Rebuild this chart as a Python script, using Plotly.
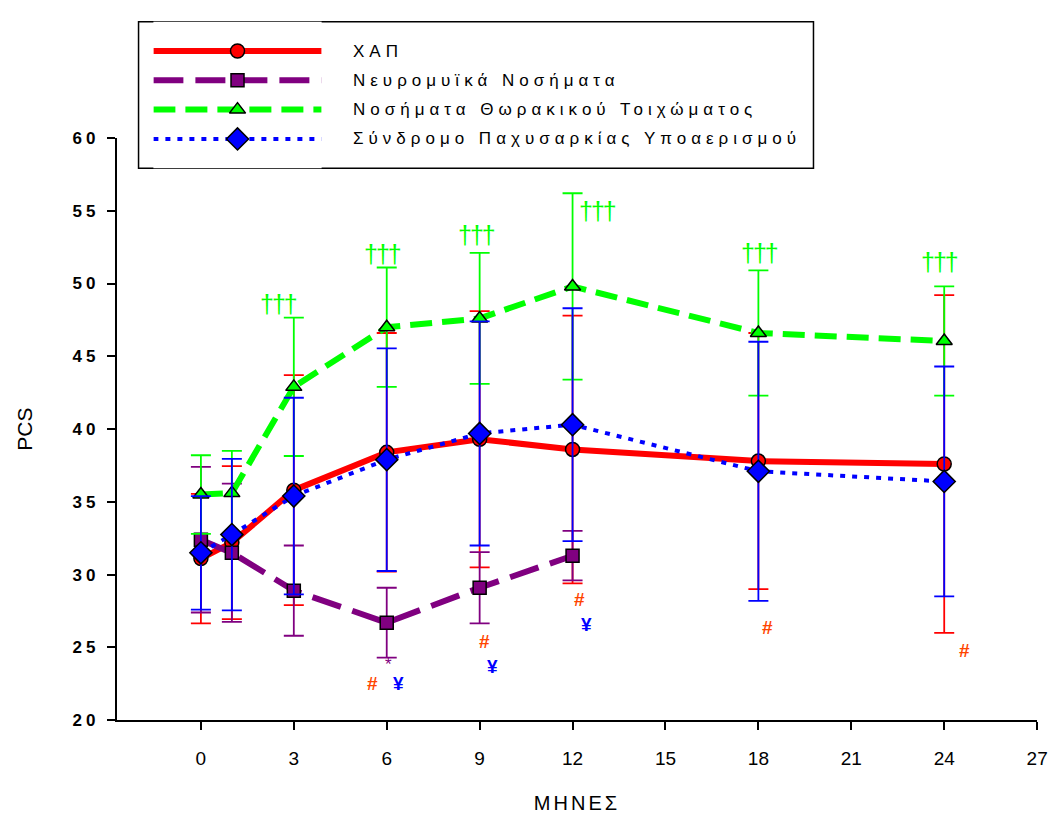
import plotly.graph_objects as go

# ---------------- data ----------------
months = [0, 1, 3, 6, 9, 12, 18, 24]
months_nm = [0, 1, 3, 6, 9, 12]

copd_mean = [31.1, 32.2, 35.8, 38.4, 39.3, 38.6, 37.8, 37.6]
copd_err = [4.45, 5.25, 7.9, 8.2, 8.8, 9.2, 8.8, 11.6]

nm_mean = [32.4, 31.5, 28.9, 26.7, 29.1, 31.3]
nm_err = [5.0, 4.75, 3.1, 2.4, 2.45, 1.7]

cw_mean = [35.5, 35.6, 42.9, 47.0, 47.6, 49.8, 46.6, 46.05]
cw_err = [2.7, 2.9, 4.75, 4.1, 4.5, 6.4, 4.3, 3.75]

ohs_mean = [31.5, 32.75, 35.4, 37.9, 39.7, 40.3, 37.1, 36.4]
ohs_err = [3.9, 5.2, 6.75, 7.65, 7.7, 8.0, 8.9, 7.9]

series_names = ["ΧΑΠ", "Νευρομυϊκά Νοσήματα", "Νοσήματα Θωρακικού Τοιχώματος",
                "Σύνδρομο Παχυσαρκίας Υποαερισμού"]

x_ticks = [0, 3, 6, 9, 12, 15, 18, 21, 24, 27]
y_ticks = [20, 25, 30, 35, 40, 45, 50, 55, 60]

# significance marks: (x, y) text positions
dagger_x = [2.5, 5.85, 8.9, 12.8, 18.03, 23.85]
dagger_y = [48.6, 52.0, 53.3, 55.0, 52.1, 51.5]
hash_x = [5.54, 9.17, 12.23, 18.28, 24.65]
hash_y = [22.5, 25.4, 28.3, 26.4, 24.8]
yen_x = [6.37, 9.4, 12.45]
yen_y = [22.5, 23.7, 26.6]
star_x = [6.05]
star_y = [23.8]

# ---------------- styles ----------------
RED, PURPLE, GREEN, BLUE = "#FF0000", "#800080", "#00FF00", "#0000FF"
W, H = 1061, 823
PL, PR, PT, PB = 118, 1048, 132, 728  # plot area in px
FONT = "Liberation Sans, Arial, sans-serif"


def spaced(txt, px):
    return f'<span style="letter-spacing:{px}px">{txt}</span>'


styles = [
    dict(color=RED, dash="solid", width=6, symbol="circle", size=14),
    dict(color=PURPLE, dash="30px,12px", width=6, symbol="square", size=13),
    dict(color=GREEN, dash="22px,10px", width=6, symbol="triangle-up", size=14),
    dict(color=BLUE, dash="5px,7px", width=4, symbol="diamond", size=17),
]
data = [
    (months, copd_mean, copd_err),
    (months_nm, nm_mean, nm_err),
    (months, cw_mean, cw_err),
    (months, ohs_mean, ohs_err),
]

fig = go.Figure()
for (xs, ys, es), st, name in zip(data, styles, series_names):
    fig.add_trace(go.Scatter(
        x=xs, y=ys, name=name, mode="lines+markers",
        line=dict(color=st["color"], width=st["width"], dash=st["dash"]),
        marker=dict(symbol=st["symbol"], size=st["size"], color=st["color"],
                    line=dict(color="black", width=1.5)),
        error_y=dict(type="data", array=es, visible=True, color=st["color"],
                     thickness=1.8, width=10),
        showlegend=False, cliponaxis=False,
    ))

# ---------------- manual legend (long line samples) ----------------
for i, (st, name) in enumerate(zip(styles, series_names)):
    fig.add_trace(go.Scatter(
        x=[0, 1], y=[i, i], mode="lines", xaxis="x2", yaxis="y2",
        line=dict(color=st["color"], width=st["width"], dash=st["dash"]),
        showlegend=False, hoverinfo="skip"))
    fig.add_trace(go.Scatter(
        x=[0.5], y=[i], mode="markers", xaxis="x2", yaxis="y2",
        marker=dict(symbol=st["symbol"], size=st["size"], color=st["color"],
                    line=dict(color="black", width=1.5)),
        showlegend=False, hoverinfo="skip"))

annotations = []
for i, name in enumerate(series_names):
    annotations.append(dict(
        text=spaced(name, 5), x=355 / W, xref="paper", y=i, yref="y2",
        xanchor="left", yanchor="middle", showarrow=False,
        font=dict(family=FONT, size=17, color="black")))

for x, y in zip(dagger_x, dagger_y):
    annotations.append(dict(text=spaced("†††", -2), x=x, y=y, xref="x", yref="y", showarrow=False,
                            font=dict(family=FONT, size=25, color=GREEN)))
for x, y in zip(hash_x, hash_y):
    annotations.append(dict(text="<b>#</b>", x=x, y=y, xref="x", yref="y", showarrow=False,
                            font=dict(family=FONT, size=19, color="#FF4500")))
for x, y in zip(yen_x, yen_y):
    annotations.append(dict(text="<b>¥</b>", x=x, y=y, xref="x", yref="y", showarrow=False,
                            font=dict(family=FONT, size=19, color=BLUE)))
for x, y in zip(star_x, star_y):
    annotations.append(dict(text="*", x=x, y=y, xref="x", yref="y", showarrow=False,
                            font=dict(family=FONT, size=17, color=PURPLE)))

fig.update_layout(
    width=W, height=H,
    margin=dict(l=0, r=0, t=0, b=0),
    paper_bgcolor="white", plot_bgcolor="white",
    showlegend=False,
    xaxis=dict(
        domain=[PL / W, PR / W], range=[-2.716, 27],
        tickvals=x_ticks, ticktext=[str(v) for v in x_ticks],
        ticks="outside", ticklen=8, tickwidth=1.5, tickcolor="black",
        showline=True, linecolor="black", linewidth=2, showgrid=False, zeroline=False,
        ticklabelstandoff=12,
        tickfont=dict(family=FONT, size=19, color="black"),
        title=dict(text=spaced("ΜΗΝΕΣ", 3), standoff=28,
                   font=dict(family=FONT, size=20, color="black")),
    ),
    yaxis=dict(
        domain=[(H - PB) / H, (H - PT) / H], range=[20, 60],
        tickvals=y_ticks, ticktext=[spaced(v, 4) for v in y_ticks],
        ticks="outside", ticklen=8, tickwidth=1.5, tickcolor="black",
        showline=True, linecolor="black", linewidth=2, showgrid=False, zeroline=False,
        ticklabelstandoff=4,
        tickfont=dict(family=FONT, size=17, color="black", weight="bold"),
        title=dict(text="PCS", standoff=34,
                   font=dict(family=FONT, size=21, color="black")),
    ),
    xaxis2=dict(domain=[155 / W, 325 / W], range=[0, 1], visible=False, anchor="y2"),
    yaxis2=dict(domain=[(H - 163) / H, (H - 13) / H], range=[4, -1], visible=False, anchor="x2"),
    shapes=[
        dict(type="rect", xref="paper", yref="paper",
             x0=140 / W, x1=822 / W, y0=(H - 163) / H, y1=(H - 13) / H,
             line=dict(color="black", width=1.5), fillcolor="white", layer="below"),
    ],
    annotations=annotations,
)

fig.write_html("out.html", config={"displayModeBar": False},
               post_script="document.body.style.margin='0';document.body.style.overflow='hidden';")
